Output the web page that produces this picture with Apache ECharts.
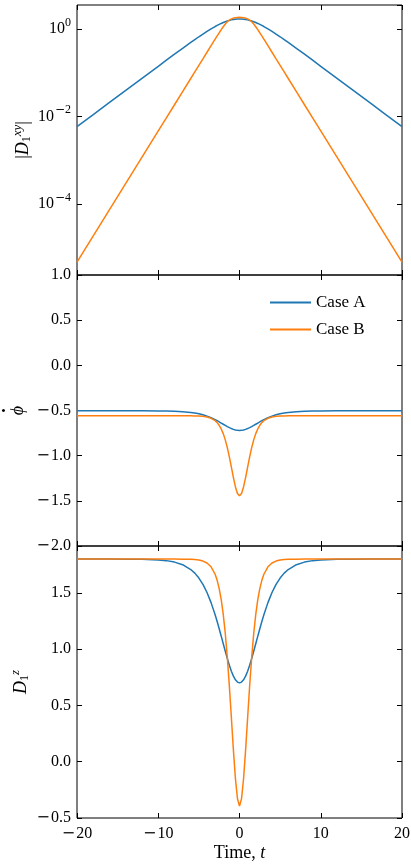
<!DOCTYPE html>
<html>
<head>
<meta charset="utf-8">
<script src="https://cdn.jsdelivr.net/npm/echarts@6/dist/echarts.min.js"></script>
<style>
  html, body { margin: 0; padding: 0; background: #fff; }
  #chart { width: 411px; height: 867px; }
</style>
</head>
<body>
<div id="chart"></div>
<script>
// time samples (denser around the pulse at t = 0)
const timeValues = [-20, -18, -16, -14, -12, -10, -9, -8, -7, -6, -5.5, -5, -4.5, -4, -3.5, -3,
  -2.75, -2.5, -2.25, -2, -1.75, -1.5, -1.25, -1, -0.75, -0.5, -0.25, 0,
  0.25, 0.5, 0.75, 1, 1.25, 1.5, 1.75, 2, 2.25, 2.5, 2.75, 3, 3.5, 4, 4.5, 5, 5.5, 6,
  7, 8, 9, 10, 12, 14, 16, 18, 20];

// |D1^xy|
const dxyCaseA = [0.00585, 0.0110, 0.0209, 0.0394, 0.0744, 0.140, 0.193, 0.264, 0.361, 0.491, 0.571, 0.662, 0.764, 0.878, 1.002, 1.134,
  1.201, 1.268, 1.334, 1.398, 1.458, 1.514, 1.565, 1.608, 1.643, 1.669, 1.685, 1.690,
  1.685, 1.669, 1.643, 1.608, 1.565, 1.514, 1.458, 1.398, 1.334, 1.268, 1.201, 1.134, 1.002, 0.878, 0.764, 0.662, 0.571, 0.491,
  0.361, 0.264, 0.193, 0.140, 0.0744, 0.0394, 0.0209, 0.0110, 0.00585];
const dxyCaseB = [4.71e-6, 1.87e-5, 7.43e-5, 2.95e-4, 0.00117, 0.00466, 0.00929, 0.0185, 0.0369, 0.0736, 0.104, 0.147, 0.207, 0.293, 0.413, 0.582,
  0.690, 0.816, 0.961, 1.122, 1.292, 1.456, 1.596, 1.699, 1.767, 1.806, 1.827, 1.838,
  1.827, 1.806, 1.767, 1.699, 1.596, 1.456, 1.292, 1.122, 0.961, 0.816, 0.690, 0.582, 0.413, 0.293, 0.207, 0.147, 0.104, 0.0736,
  0.0369, 0.0185, 0.00929, 0.00466, 0.00117, 2.95e-4, 7.43e-5, 1.87e-5, 4.71e-6];

// phi dot
const phiCaseA = [-0.503, -0.503, -0.503, -0.503, -0.503, -0.505, -0.506, -0.508, -0.513, -0.521, -0.528, -0.536, -0.548, -0.562, -0.580, -0.601,
  -0.613, -0.626, -0.639, -0.652, -0.665, -0.678, -0.690, -0.700, -0.709, -0.716, -0.720, -0.721,
  -0.720, -0.716, -0.709, -0.700, -0.690, -0.678, -0.665, -0.652, -0.639, -0.626, -0.613, -0.601, -0.580, -0.562, -0.548, -0.536, -0.528, -0.521,
  -0.513, -0.508, -0.506, -0.505, -0.503, -0.503, -0.503, -0.503, -0.503];
const phiCaseB = [-0.558, -0.558, -0.558, -0.558, -0.558, -0.558, -0.558, -0.558, -0.558, -0.559, -0.560, -0.562, -0.565, -0.572, -0.586, -0.613,
  -0.634, -0.664, -0.704, -0.756, -0.825, -0.911, -1.013, -1.127, -1.243, -1.346, -1.418, -1.444,
  -1.418, -1.346, -1.243, -1.127, -1.013, -0.911, -0.825, -0.756, -0.704, -0.664, -0.634, -0.613, -0.586, -0.572, -0.565, -0.562, -0.560, -0.559,
  -0.558, -0.558, -0.558, -0.558, -0.558, -0.558, -0.558, -0.558, -0.558];

// D1^z
const dzCaseA = [1.800, 1.800, 1.800, 1.799, 1.798, 1.792, 1.786, 1.773, 1.750, 1.707, 1.675, 1.631, 1.575, 1.503, 1.413, 1.305,
  1.245, 1.181, 1.115, 1.048, 0.981, 0.917, 0.857, 0.804, 0.760, 0.727, 0.707, 0.700,
  0.707, 0.727, 0.760, 0.804, 0.857, 0.917, 0.981, 1.048, 1.115, 1.181, 1.245, 1.305, 1.413, 1.503, 1.575, 1.631, 1.675, 1.707,
  1.750, 1.773, 1.786, 1.792, 1.798, 1.799, 1.800, 1.800, 1.800];
const dzCaseB = [1.800, 1.800, 1.800, 1.800, 1.800, 1.800, 1.800, 1.800, 1.799, 1.798, 1.796, 1.791, 1.782, 1.765, 1.731, 1.665,
  1.611, 1.538, 1.440, 1.309, 1.139, 0.927, 0.674, 0.391, 0.103, -0.151, -0.329, -0.393,
  -0.329, -0.151, 0.103, 0.391, 0.674, 0.927, 1.139, 1.309, 1.440, 1.538, 1.611, 1.665, 1.731, 1.765, 1.782, 1.791, 1.796, 1.798,
  1.799, 1.800, 1.800, 1.800, 1.800, 1.800, 1.800, 1.800, 1.800];

const seriesNames = ['Case A', 'Case B'];
const colorList = ['#1f77b4', '#ff7f0e'];

const FONT = "'Liberation Serif', 'DejaVu Serif', serif";
const panels = [
  { top: 5, height: 270 },
  { top: 275, height: 271 },
  { top: 546, height: 272 }
];

// wide math-style minus drawn as its own rich token
const signed = s => {
  s = String(s);
  return s.charAt(0) === '-' ? '{m|\u2212}{n|' + s.slice(1) + '}' : '{n|' + s + '}';
};

const tick = { show: true, inside: true, length: 5, lineStyle: { color: '#000', width: 1 } };

const labelRich = {
  n: { fontSize: 16, fontFamily: FONT, color: '#000' },
  m: { fontSize: 16, fontFamily: "'DejaVu Serif', serif", color: '#000', padding: [0, 1, 0, 0] }
};
const supRich = {
  b: { fontSize: 16, fontFamily: FONT, color: '#000' },
  sm: { fontSize: 12, fontFamily: "'DejaVu Serif', serif", color: '#000', verticalAlign: 'middle', padding: [0, 0, 13, 1] },
  s: { fontSize: 12, fontFamily: FONT, color: '#000', verticalAlign: 'middle', padding: [0, 0, 13, 0] }
};
const nameRich = {
  r: { fontSize: 18, fontFamily: FONT, color: '#000' },
  i: { fontSize: 18, fontFamily: FONT, fontStyle: 'italic', color: '#000' },
  dot: { fontSize: 18, fontFamily: FONT, fontWeight: 'bold', color: '#000', lineHeight: 7, align: 'center' },
  phi: { fontSize: 18, fontFamily: FONT, fontStyle: 'italic', color: '#000', lineHeight: 18, align: 'center' },
  sub: { fontSize: 12, fontFamily: FONT, color: '#000', verticalAlign: 'middle', padding: [8, 0, 0, 0] },
  sup: { fontSize: 13, fontFamily: FONT, fontStyle: 'italic', color: '#000', verticalAlign: 'middle', padding: [0, 0, 11, 0] }
};

function logLabel(v) {
  const e = Math.round(Math.log10(v));
  return '{b|10}' + (e < 0 ? '{sm|\u2212}{s|' + (-e) + '}' : '{s|' + e + '}');
}

function xAxes(i) {
  const base = {
    gridIndex: i, type: 'value', min: -20, max: 20, interval: 10,
    axisLine: { show: false, onZero: false }, axisTick: tick, splitLine: { show: false }
  };
  const bottom = Object.assign({}, base, {
    position: 'bottom',
    axisLabel: { show: i === 2, margin: 8, formatter: v => signed(v), rich: labelRich }
  });
  if (i === 2) {
    Object.assign(bottom, {
      name: '{r|Time, }{i|t}', nameLocation: 'middle', nameGap: 26,
      nameTextStyle: { rich: nameRich }
    });
  }
  const top = Object.assign({}, base, { position: 'top', axisLabel: { show: false } });
  return [bottom, top];
}

const yConfigs = [
  {
    type: 'log', logBase: 100, min: 2.38e-6, max: 3.52,
    name: '{r||}{i|D}{sub|1}{sup|xy}{r||}', nameGap: 42,
    axisLabel: { showMinLabel: false, showMaxLabel: false, margin: 6, formatter: logLabel, rich: supRich }
  },
  {
    type: 'value', min: -2, max: 1, interval: 0.5,
    name: '{dot|\u00B7}\n{phi|\u03D5}', nameGap: 50,
    axisLabel: { margin: 6, formatter: v => signed(v.toFixed(1)), rich: labelRich }
  },
  {
    type: 'value', min: -0.5, max: 1.916, interval: 0.5,
    name: '{i|D}{sub|1}{sup|z}', nameGap: 44,
    axisLabel: { showMaxLabel: false, margin: 6, formatter: v => signed(v.toFixed(1)), rich: labelRich }
  }
];

function yAxes(i) {
  const c = yConfigs[i];
  const base = {
    gridIndex: i, type: c.type, min: c.min, max: c.max,
    axisLine: { show: false, onZero: false }, axisTick: tick, splitLine: { show: false }
  };
  if (c.logBase) base.logBase = c.logBase;
  if (c.interval) base.interval = c.interval;
  const left = Object.assign({}, base, {
    position: 'left',
    name: c.name, nameLocation: 'middle', nameRotate: 90, nameGap: c.nameGap,
    nameMoveOverlap: false,
    nameTextStyle: { rich: nameRich },
    axisLabel: c.axisLabel
  });
  const right = Object.assign({}, base, { position: 'right', axisLabel: { show: false } });
  return [left, right];
}

const panelData = [[dxyCaseA, dxyCaseB], [phiCaseA, phiCaseB], [dzCaseA, dzCaseB]];
const series = [];
panelData.forEach((pair, i) => {
  pair.forEach((values, k) => {
    series.push({
      name: seriesNames[k], type: 'line',
      xAxisIndex: i * 2, yAxisIndex: i * 2,
      data: timeValues.map((t, j) => [t, values[j]]),
      showSymbol: false, symbol: 'none',
      lineStyle: { color: colorList[k], width: 1.5 },
      itemStyle: { color: colorList[k] },
      z: 2 + k
    });
  });
});

const option = {
  animation: false,
  backgroundColor: '#fff',
  grid: panels.map(p => ({
    left: 77, right: 9, top: p.top, height: p.height,
    outerBoundsMode: 'none', containLabel: false,
    show: true, borderColor: '#000', borderWidth: 1, backgroundColor: 'transparent'
  })),
  xAxis: [0, 1, 2].flatMap(xAxes),
  yAxis: [0, 1, 2].flatMap(yAxes),
  legend: {
    data: seriesNames, orient: 'vertical', left: 270, top: 294, padding: 0,
    icon: 'rect', itemWidth: 41, itemHeight: 2, itemGap: 10,
    textStyle: { fontFamily: FONT, fontSize: 17, color: '#000', lineHeight: 16 }
  },
  series
};

const myChart = echarts.init(document.getElementById('chart'));
myChart.setOption(option);
</script>
</body>
</html>
